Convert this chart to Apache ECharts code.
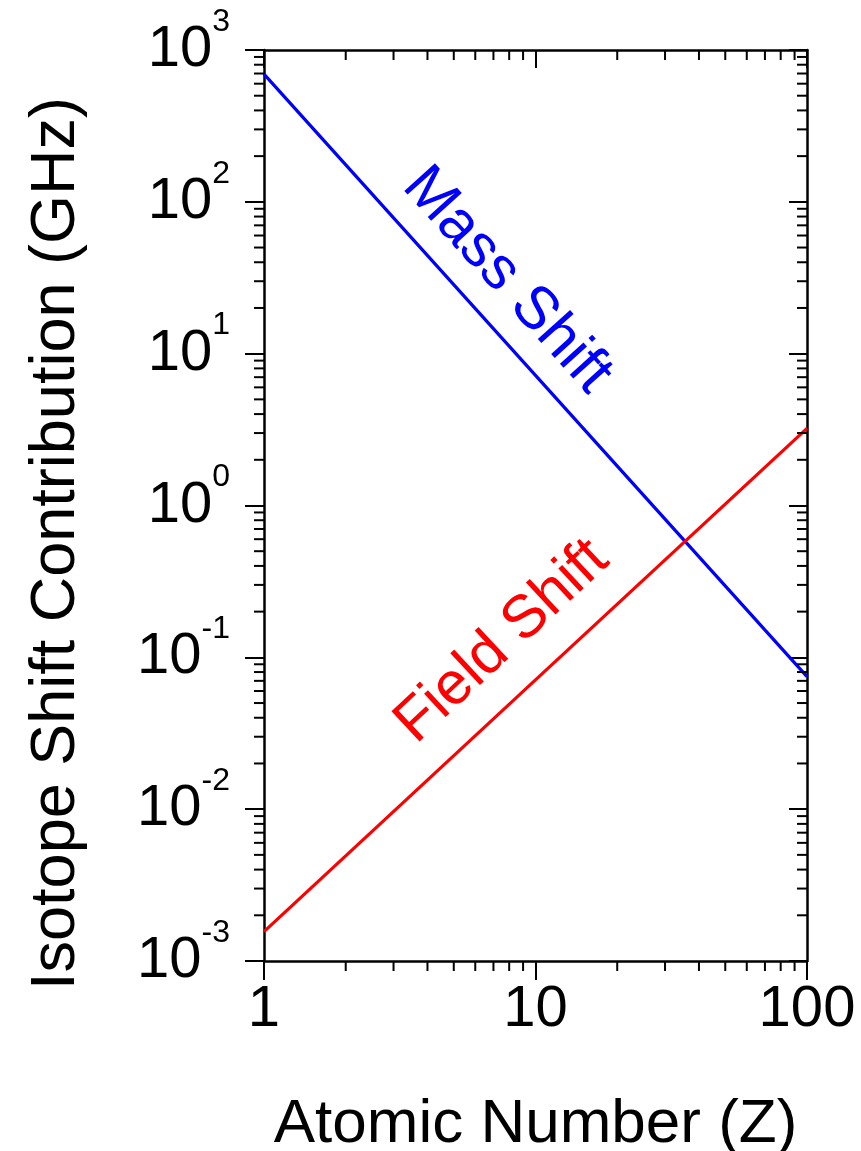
<!DOCTYPE html>
<html>
<head>
<meta charset="utf-8">
<script src="https://cdn.jsdelivr.net/npm/echarts@6/dist/echarts.min.js"></script>
<style>
  html, body { margin: 0; padding: 0; background: #fff; }
  #main { width: 861px; height: 1151px; }
</style>
</head>
<body>
<div id="main"></div>
<script>
// values (log-log, straight lines)
var atomicNumber = [1, 10, 100];
var massShift = [693, 7.2, 0.0746];
var fieldShift = [0.00156, 0.071, 3.22];

var xTickLabels = ['1', '10', '100'];
var yTickExponents = ['-3', '-2', '-1', '0', '1', '2', '3'];

// where the two curve names sit (data coords) and their slant
var lineNames = ['Mass Shift', 'Field Shift'];
var nameAnchors = [[7.86, 30.4], [7.54, 0.127]];
var nameAngles = [-48, 43];
var lineColors = ['#0000ff', '#ff0000'];

var xMin = 1, xMax = 100, yMin = 0.001, yMax = 1000;

// minor tick values (2..9 of each decade)
var xMinor = [];
for (var d = 1; d < xMax; d *= 10) {
    for (var k = 2; k <= 9; k++) xMinor.push(k * d);
}
var yMinor = [];
for (var e = -3; e < 3; e++) {
    for (var k = 2; k <= 9; k++) yMinor.push(k * Math.pow(10, e));
}

var FONT = 'Liberation Sans, Arial, sans-serif';
var black = '#000';

var chartDom = document.getElementById('main');
var myChart = echarts.init(chartDom, null, { width: 861, height: 1151 });

function minorTicks(params, api) {
    if (params.dataIndex !== 0) return null;
    var children = [];
    var style = { stroke: black, lineWidth: 2 };
    var len = 10;
    xMinor.forEach(function (v) {
        var b = api.coord([v, yMin]);
        var t = api.coord([v, yMax]);
        children.push({ type: 'line', shape: { x1: b[0], y1: b[1], x2: b[0], y2: b[1] + len }, style: style });
        children.push({ type: 'line', shape: { x1: t[0], y1: t[1], x2: t[0], y2: t[1] + len }, style: style });
    });
    yMinor.forEach(function (v) {
        var l = api.coord([xMin, v]);
        var r = api.coord([xMax, v]);
        children.push({ type: 'line', shape: { x1: l[0] - len, y1: l[1], x2: l[0], y2: l[1] }, style: style });
        children.push({ type: 'line', shape: { x1: r[0] - len, y1: r[1], x2: r[0], y2: r[1] }, style: style });
    });
    return { type: 'group', children: children };
}

var axisLine = { show: true, onZero: false, lineStyle: { color: black, width: 2.5 } };

var option = {
    animation: false,
    backgroundColor: '#fff',
    textStyle: { fontFamily: FONT },
    grid: { left: 264, right: 54, top: 50, bottom: 190, containLabel: false, outerBoundsMode: 'none' },
    xAxis: [
        {
            type: 'log', logBase: 10, min: xMin, max: xMax, position: 'bottom',
            axisLine: axisLine,
            axisTick: { show: true, inside: false, length: 19, lineStyle: { color: black, width: 2 } },
            axisLabel: {
                fontSize: 58, color: black, fontFamily: FONT, margin: 20,
                formatter: function (v, i) { return xTickLabels[i]; }
            },
            splitLine: { show: false },
            name: 'Atomic Number (Z)', nameLocation: 'middle', nameGap: 133,
            nameTextStyle: { fontSize: 62, color: black, fontFamily: FONT }
        },
        {
            type: 'log', logBase: 10, min: xMin, max: xMax, position: 'top',
            axisLine: axisLine,
            axisTick: { show: true, inside: true, length: 18, lineStyle: { color: black, width: 2 } },
            axisLabel: { show: false },
            splitLine: { show: false }
        }
    ],
    yAxis: [
        {
            type: 'log', logBase: 10, min: yMin, max: yMax, splitNumber: 6, position: 'left',
            axisLine: axisLine,
            axisTick: { show: true, inside: false, length: 19, lineStyle: { color: black, width: 2 } },
            axisLabel: {
                color: black, fontFamily: FONT, margin: 34,
                formatter: function (v, i) { return '{b|10}{sup|' + yTickExponents[i] + '}'; },
                rich: {
                    b: { fontSize: 58, lineHeight: 88, fontFamily: FONT, color: black },
                    sup: { fontSize: 32, lineHeight: 32, verticalAlign: 'top', fontFamily: FONT, color: black }
                }
            },
            splitLine: { show: false },
            name: 'Isotope Shift Contribution (GHz)', nameLocation: 'middle', nameGap: 176,
            nameTextStyle: { fontSize: 63, color: black, fontFamily: FONT, padding: [0, 76, 0, 0] }
        },
        {
            type: 'log', logBase: 10, min: yMin, max: yMax, splitNumber: 6, position: 'right',
            axisLine: axisLine,
            axisTick: { show: true, inside: true, length: 18, lineStyle: { color: black, width: 2 } },
            axisLabel: { show: false },
            splitLine: { show: false }
        }
    ],
    series: [
        {
            name: lineNames[0], type: 'line', xAxisIndex: 0, yAxisIndex: 0,
            data: atomicNumber.map(function (z, i) { return [z, massShift[i]]; }),
            showSymbol: false, symbol: 'none',
            lineStyle: { color: lineColors[0], width: 3.2 }, z: 3
        },
        {
            name: lineNames[1], type: 'line', xAxisIndex: 0, yAxisIndex: 0,
            data: atomicNumber.map(function (z, i) { return [z, fieldShift[i]]; }),
            showSymbol: false, symbol: 'none',
            lineStyle: { color: lineColors[1], width: 3.2 }, z: 3
        },
        {
            type: 'scatter', xAxisIndex: 0, yAxisIndex: 0, symbolSize: 0, silent: true,
            itemStyle: { opacity: 1 },
            data: nameAnchors.map(function (p, i) {
                return {
                    value: p,
                    label: {
                        show: true, position: 'inside', formatter: lineNames[i],
                        rotate: nameAngles[i], fontSize: 60, fontFamily: FONT,
                        color: lineColors[i], opacity: 1, align: 'center', verticalAlign: 'middle'
                    }
                };
            })
        },
        {
            type: 'custom', xAxisIndex: 0, yAxisIndex: 0, silent: true, clip: false,
            renderItem: minorTicks,
            data: [[xMin, yMin]], z: 5
        }
    ]
};

option && myChart.setOption(option);
</script>
</body>
</html>
